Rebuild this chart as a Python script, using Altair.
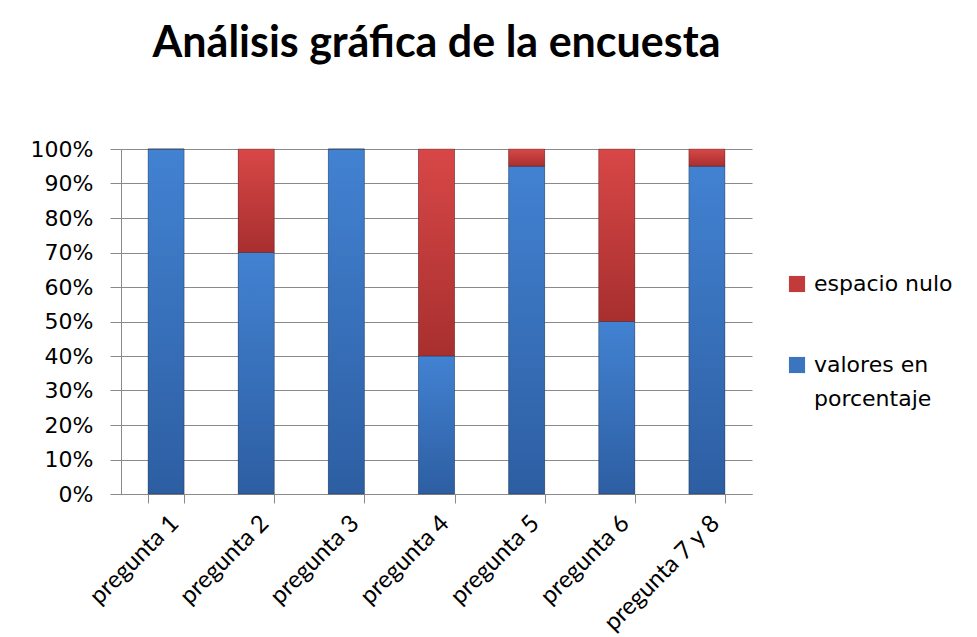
import altair as alt
import pandas as pd

preguntas = ["pregunta  1", "pregunta 2", "pregunta 3", "pregunta 4",
             "pregunta 5", "pregunta 6", "pregunta 7 y 8"]
valores_en_porcentaje = [100, 70, 100, 40, 95, 50, 95]
espacio_nulo = [0, 30, 0, 60, 5, 50, 5]
series = ["espacio nulo", "valores en porcentaje"]
colores = ["#C23A3A", "#3B74BF"]
y_ticks = [0, 0.1, 0.2, 0.3, 0.4, 0.5, 0.6, 0.7, 0.8, 0.9, 1.0]

rows = []
for p, v, n in zip(preguntas, valores_en_porcentaje, espacio_nulo):
    rows.append({"pregunta": p, "serie": "valores en porcentaje", "valor": v, "orden": 0})
    rows.append({"pregunta": p, "serie": "espacio nulo", "valor": n, "orden": 1})
df = pd.DataFrame(rows)

grad_rojo = {"gradient": "linear", "x1": 0, "y1": 0, "x2": 0, "y2": 1,
             "stops": [{"offset": 0, "color": "#D84747"}, {"offset": 1, "color": "#A82F2F"}]}
grad_azul = {"gradient": "linear", "x1": 0, "y1": 0, "x2": 0, "y2": 1,
             "stops": [{"offset": 0, "color": "#4282D2"}, {"offset": 1, "color": "#2D5EA2"}]}

x_enc = alt.X("pregunta:N", sort=preguntas, title=None,
              scale=alt.Scale(paddingInner=0.6, paddingOuter=0.3),
              axis=alt.Axis(labelAngle=315, labelFont="Lato", labelFontSize=24,
                            labelColor="#000000", tickBand="extent", tickSize=9,
                            tickColor="#8a8a8a", domainColor="#8a8a8a",
                            labelPadding=8, grid=False))
y_enc = alt.Y("valor:Q", stack="normalize", title=None,
              scale=alt.Scale(domain=[0, 1]),
              axis=alt.Axis(values=y_ticks, format=".0%", labelFont="DejaVu Sans",
                            labelFontSize=22, labelColor="#000000", tickSize=11,
                            labelOverlap=False,
                            tickColor="#8a8a8a", domainColor="#8a8a8a",
                            gridColor="#8a8a8a", labelPadding=17))

base = alt.Chart(df).mark_bar().encode(
    x=x_enc, y=y_enc,
    color=alt.Color("serie:N", scale=alt.Scale(domain=series, range=colores),
                    legend=alt.Legend(title=None, orient="none", legendX=665, legendY=124,
                                      symbolType="square", symbolSize=260,
                                      symbolStrokeWidth=0,
                                      labelFont="DejaVu Sans", labelFontSize=22,
                                      labelColor="#000000", rowPadding=59,
                                      labelLimit=300, labelOffset=6,
                                      labelExpr="datum.label == 'valores en porcentaje' ? ['valores en', 'porcentaje'] : datum.label")),
    order=alt.Order("orden:Q"),
)

gradiente = alt.Chart(df).mark_bar(stroke="#1a1a1a", strokeOpacity=0.3, strokeWidth=1).encode(
    x=x_enc, y=y_enc,
    detail="serie:N",
    fill=alt.condition("datum.serie == 'espacio nulo'", alt.value(grad_rojo), alt.value(grad_azul)),
    order=alt.Order("orden:Q"),
)

chart = alt.layer(base, gradiente).properties(
    width=631, height=345,
    title=alt.TitleParams("Análisis gráfica de la encuesta", font="Lato", fontSize=43,
                          fontWeight="bold", color="#000000", anchor="middle", offset=72),
    padding={"left": 22, "top": 15, "right": 5, "bottom": 0},
    background="#ffffff",
).configure(style={"guide-label": {"lineHeight": 34}}).configure_view(stroke=None)

chart.save("out.html", embed_options={"renderer": "svg", "actions": False})
